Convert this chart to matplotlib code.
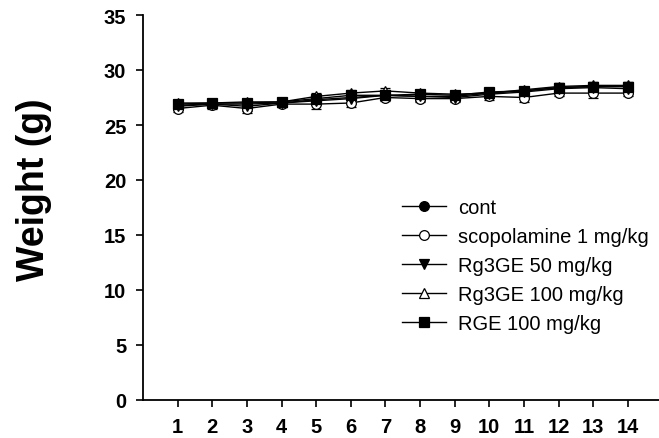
import numpy as np
import matplotlib.pyplot as plt
from matplotlib.lines import Line2D

# days and group means / errors
days = list(range(1, 15))

cont = [26.8, 26.9, 26.9, 27.0, 27.3, 27.5, 27.7, 27.6, 27.6, 27.9, 28.1, 28.4, 28.5, 28.5]
scop = [26.5, 26.8, 26.5, 26.9, 26.9, 27.0, 27.5, 27.4, 27.4, 27.6, 27.5, 27.9, 27.9, 27.9]
rg3_50 = [26.7, 26.9, 26.7, 27.0, 27.2, 27.4, 27.7, 27.6, 27.5, 27.8, 28.0, 28.3, 28.4, 28.3]
rg3_100 = [27.0, 27.0, 27.1, 27.1, 27.6, 27.9, 28.1, 27.9, 27.8, 27.9, 28.2, 28.5, 28.6, 28.6]
rge_100 = [26.9, 27.0, 27.0, 27.1, 27.4, 27.7, 27.7, 27.8, 27.7, 28.0, 28.1, 28.4, 28.5, 28.5]

err_cont = [0.3, 0.3, 0.3, 0.3, 0.4, 0.4, 0.4, 0.4, 0.4, 0.3, 0.4, 0.4, 0.4, 0.4]
err_scop = [0.3, 0.3, 0.4, 0.3, 0.4, 0.4, 0.3, 0.3, 0.3, 0.3, 0.4, 0.3, 0.4, 0.3]
err_rg3_50 = [0.3, 0.3, 0.4, 0.3, 0.3, 0.4, 0.3, 0.3, 0.3, 0.3, 0.3, 0.3, 0.3, 0.3]
err_rg3_100 = [0.3, 0.3, 0.3, 0.3, 0.3, 0.3, 0.3, 0.3, 0.3, 0.3, 0.3, 0.3, 0.3, 0.3]
err_rge_100 = [0.3, 0.3, 0.3, 0.3, 0.3, 0.3, 0.3, 0.3, 0.3, 0.3, 0.3, 0.3, 0.3, 0.3]

labels = ['cont', 'scopolamine 1 mg/kg', 'Rg3GE 50 mg/kg', 'Rg3GE 100 mg/kg', 'RGE 100 mg/kg']

plt.rcParams['font.family'] = ['Liberation Sans', 'DejaVu Sans']

fig = plt.figure(figsize=(6.59, 4.39), dpi=100)
ax = fig.add_axes([143 / 659, 38 / 439, 516 / 659, 385 / 439])

series = [
    (cont, err_cont, 'o', 'black'),
    (scop, err_scop, 'o', 'white'),
    (rg3_50, err_rg3_50, 'v', 'black'),
    (rg3_100, err_rg3_100, '^', 'white'),
    (rge_100, err_rge_100, 's', 'black'),
]

handles = []
for (vals, errs, mk, fc), lab in zip(series, labels):
    ax.errorbar(days, vals, yerr=errs, color='black', lw=1.0, marker=mk,
                markersize=7, markerfacecolor=fc, markeredgecolor='black',
                markeredgewidth=0.9, capsize=3.5, elinewidth=0.9, capthick=0.9)
    handles.append(Line2D([], [], color='black', lw=1.0, marker=mk, markersize=7,
                          markerfacecolor=fc, markeredgecolor='black',
                          markeredgewidth=0.9, label=lab))

ax.set_xlim(0, 14.9)
ax.set_ylim(0, 35)
ax.set_xticks(days)
ax.set_yticks(range(0, 36, 5))
ax.spines['top'].set_visible(False)
ax.spines['right'].set_visible(False)
ax.spines['left'].set_linewidth(1.3)
ax.spines['bottom'].set_linewidth(1.3)
ax.tick_params(direction='out', length=5, width=1.2, labelsize=14.5, pad=7)
for t in ax.get_xticklabels() + ax.get_yticklabels():
    t.set_fontweight('bold')

ax.set_ylabel('Weight (g)', fontsize=27, fontweight='bold')
ax.yaxis.set_label_coords(-0.176, 0.548)

leg = ax.legend(handles=handles, loc='upper left',
                bbox_to_anchor=(402 / 659, 1 - 199 / 439),
                bbox_transform=fig.transFigure, frameon=False, fontsize=14.5,
                handlelength=2.2, handletextpad=0.6, labelspacing=0.5,
                borderpad=0, borderaxespad=0)

fig.savefig('out.png', dpi=100)
